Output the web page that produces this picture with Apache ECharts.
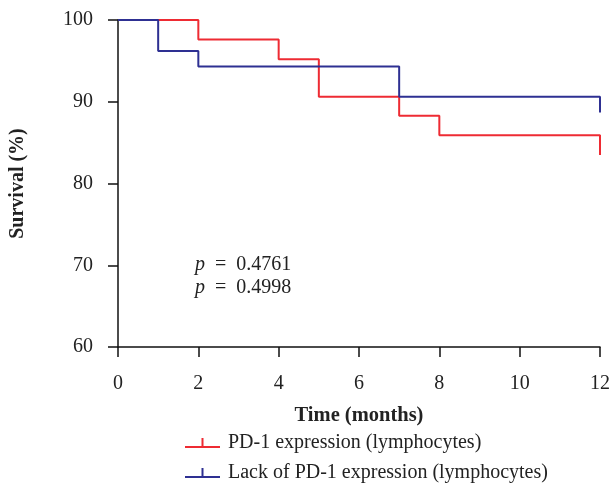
<!DOCTYPE html>
<html>
<head>
<meta charset="utf-8">
<script src="https://cdn.jsdelivr.net/npm/echarts@6/dist/echarts.min.js"></script>
<style>
  html, body { margin: 0; padding: 0; background: #fff; }
  #chart { width: 614px; height: 483px; }
</style>
</head>
<body>
<div id="chart"></div>
<script>
// 数据
const seriesNames = ['PD-1 expression (lymphocytes)', 'Lack of PD-1 expression (lymphocytes)']
const pd1Times = [0, 2, 4, 5, 7, 8, 12]
const pd1Survival = [100, 97.6, 95.2, 90.6, 88.3, 85.9, 83.5]
const lackTimes = [0, 1, 2, 7, 12]
const lackSurvival = [100, 96.2, 94.3, 90.6, 88.7]
const pValues = ['0.4761', '0.4998']

const font = 'Liberation Serif'
const red = '#ee2b33'
const blue = '#2e3092'
// 图例图标：横线加一个小竖线（删失标记）
const censorIcon = 'path://M0,8 L35,8 L35,10 L0,10 Z M16.5,0 L18.5,0 L18.5,8 L16.5,8 Z'

const toPairs = (xs, ys) => xs.map((x, i) => [x, ys[i]])

// 每个系列一个图例，上下排列
const legendTops = [433, 463]
const legends = seriesNames.map((name, i) => ({
  left: 185,
  top: legendTops[i],
  padding: 0,
  itemWidth: 35,
  itemHeight: 10,
  icon: censorIcon,
  textStyle: { fontFamily: font, fontSize: 20, color: '#222', padding: [0, 0, 0, 3] },
  data: [name],
}))

const chart = echarts.init(document.getElementById('chart'))
chart.setOption({
  animation: false,
  grid: { left: 118, right: 14, top: 20, bottom: 136, containLabel: false },
  xAxis: {
    type: 'value',
    min: 0,
    max: 12,
    interval: 2,
    name: 'Time (months)',
    nameLocation: 'middle',
    nameGap: 58,
    nameTextStyle: { fontFamily: font, fontSize: 20.5, fontWeight: 'bold', color: '#222' },
    axisLine: { show: true, lineStyle: { color: '#111', width: 1.5 } },
    axisTick: { show: true, length: 10, lineStyle: { color: '#111', width: 1.5 } },
    axisLabel: { margin: 27, fontFamily: font, fontSize: 20, color: '#222' },
    splitLine: { show: false },
  },
  yAxis: {
    type: 'value',
    min: 60,
    max: 100,
    interval: 10,
    name: 'Survival (%)',
    nameLocation: 'middle',
    nameGap: 90,
    nameTextStyle: { fontFamily: font, fontSize: 20, fontWeight: 'bold', color: '#222' },
    axisLine: { show: true, lineStyle: { color: '#111', width: 1.5 } },
    axisTick: { show: true, length: 10, lineStyle: { color: '#111', width: 1.5 } },
    axisLabel: { margin: 25, fontFamily: font, fontSize: 20, color: '#222' },
    splitLine: { show: false },
  },
  legend: legends,
  graphic: pValues.map((v, i) => ({
    type: 'text',
    left: 195,
    top: 255 + i * 23,
    style: {
      text: '{i|p}  =  ' + v,
      font: '20px ' + font,
      fill: '#222',
      rich: { i: { fontStyle: 'italic', fontFamily: font, fontSize: 20 } },
    },
  })),
  series: [
    {
      name: seriesNames[0],
      type: 'line',
      step: 'end',
      showSymbol: false,
      color: red,
      lineStyle: { color: red, width: 2 },
      data: toPairs(pd1Times, pd1Survival),
    },
    {
      name: seriesNames[1],
      type: 'line',
      step: 'end',
      showSymbol: false,
      color: blue,
      lineStyle: { color: blue, width: 2 },
      data: toPairs(lackTimes, lackSurvival),
    },
  ],
})
</script>
</body>
</html>
